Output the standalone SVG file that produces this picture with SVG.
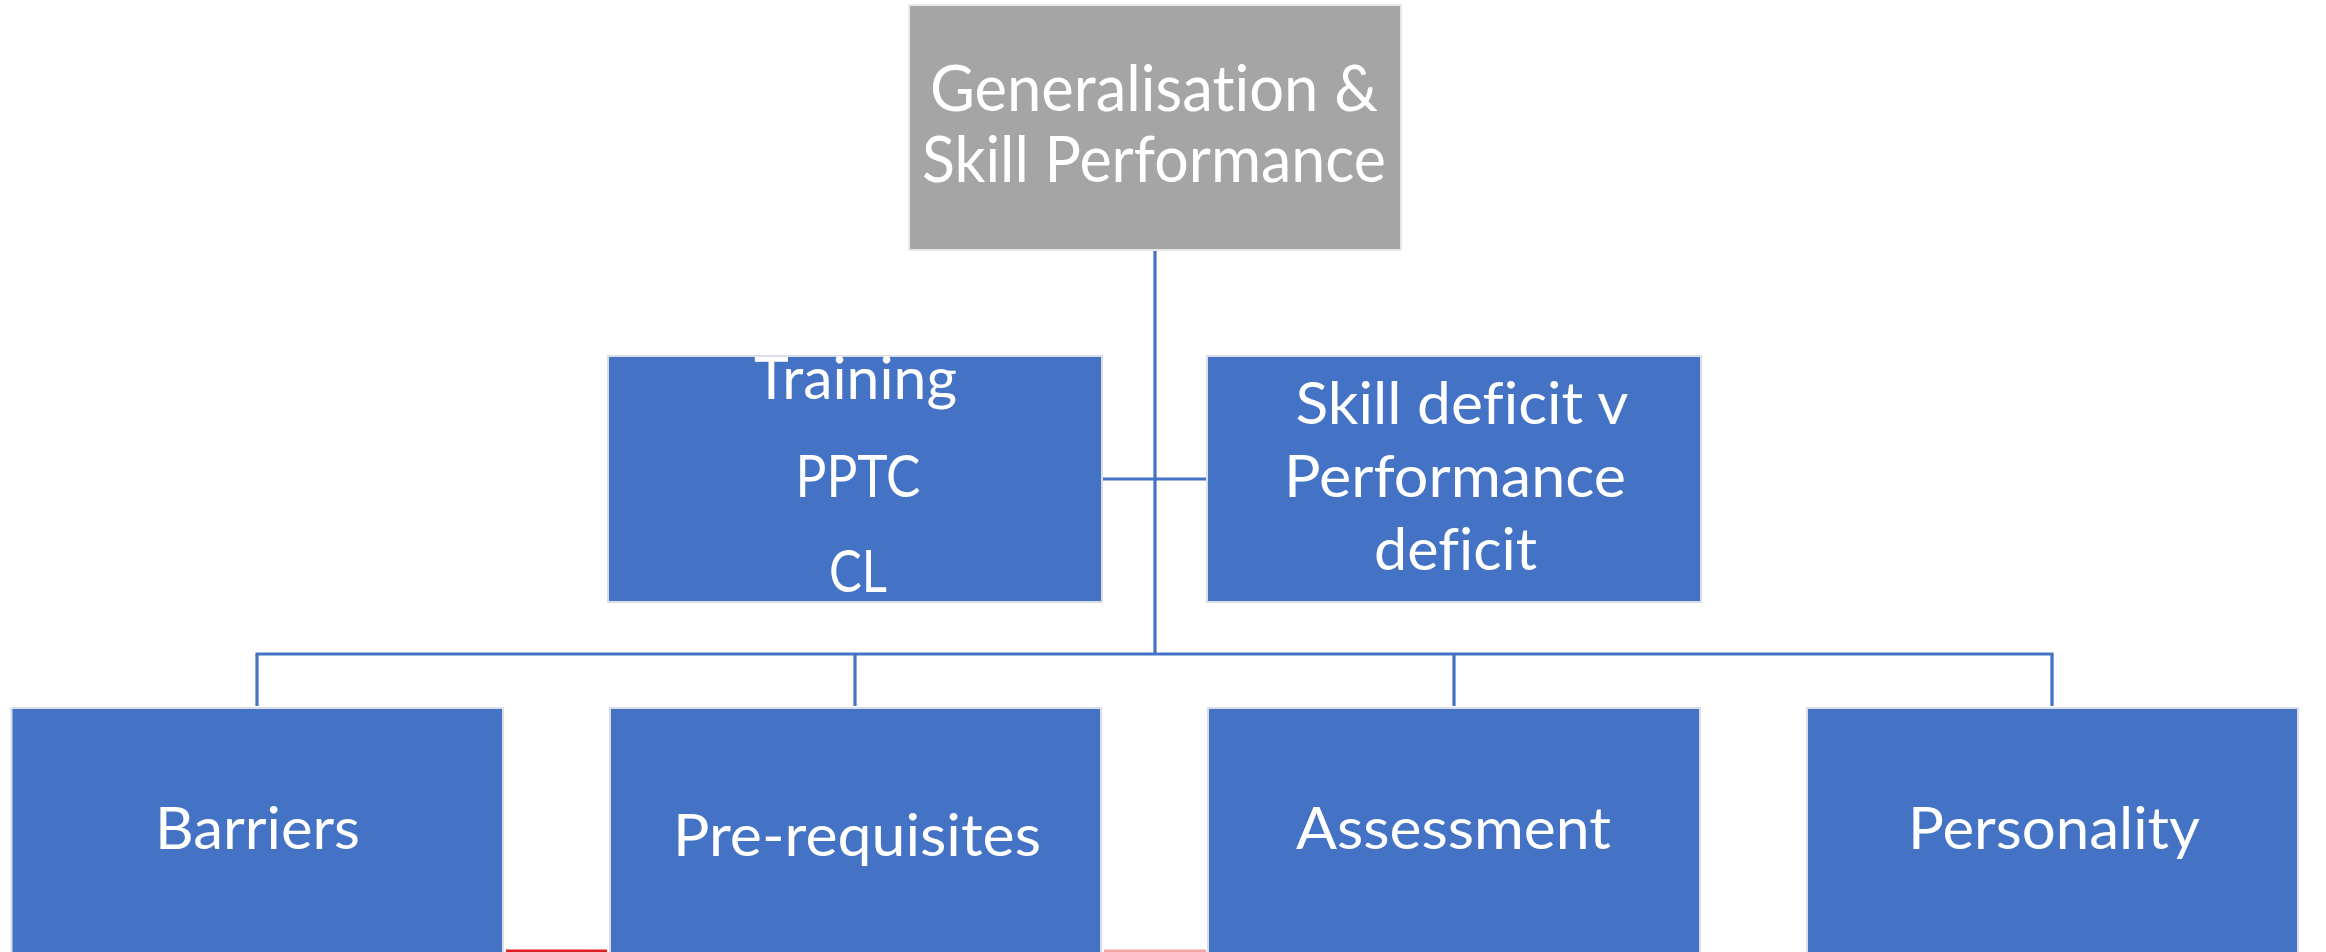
<svg xmlns="http://www.w3.org/2000/svg" width="2326" height="952" viewBox="0 0 2326 952">
<style>
.box{fill:#4472C4;stroke:#D9DEE8;stroke-width:2}
.top{fill:#A5A5A5;stroke:#E8E8E8;stroke-width:2}
.t{font-family:Lato,"Open Sans","Liberation Sans",sans-serif;fill:#FFFFFF;text-anchor:middle;font-variant-ligatures:none}
.big{font-size:63px}
.mid{font-size:59px}
.conn line{stroke:#4472C4;stroke-width:3.2}
</style>
<rect width="2326" height="952" fill="#FFFFFF"/>
<g id="connectors" class="conn">
<line x1="1155" y1="250" x2="1155" y2="654"/>
<line x1="1103" y1="479" x2="1207" y2="479"/>
<line x1="255.5" y1="654" x2="2053.5" y2="654"/>
<line x1="257" y1="654" x2="257" y2="706"/>
<line x1="855" y1="654" x2="855" y2="706"/>
<line x1="1454" y1="654" x2="1454" y2="706"/>
<line x1="2052" y1="654" x2="2052" y2="706"/>
</g>
<g id="node-top">
<rect class="top" x="909" y="5" width="492" height="245"/>
<text class="t big" x="1154" y="111" textLength="448" lengthAdjust="spacingAndGlyphs">Generalisation &amp;</text>
<text class="t big" x="1154" y="182" textLength="464" lengthAdjust="spacingAndGlyphs">Skill Performance</text>
</g>
<g id="node-training">
<rect class="box" x="608" y="356" width="494" height="246"/>
<text class="t mid" x="855.5" y="399" textLength="203" lengthAdjust="spacingAndGlyphs">Training</text>
<text class="t mid" x="858" y="497" textLength="125" lengthAdjust="spacingAndGlyphs">PPTC</text>
<text class="t mid" x="858" y="592" textLength="58" lengthAdjust="spacingAndGlyphs">CL</text>
</g>
<g id="node-deficit">
<rect class="box" x="1207" y="356" width="494" height="246"/>
<text class="t mid" x="1462" y="424" textLength="333" lengthAdjust="spacingAndGlyphs">Skill deficit v</text>
<text class="t mid" x="1455" y="497" textLength="342" lengthAdjust="spacingAndGlyphs">Performance</text>
<text class="t mid" x="1455.5" y="570" textLength="163" lengthAdjust="spacingAndGlyphs">deficit</text>
</g>
<g id="node-barriers">
<rect class="box" x="11.5" y="708" width="491.5" height="260"/>
<text class="t mid" x="257.5" y="849" textLength="205" lengthAdjust="spacingAndGlyphs">Barriers</text>
</g>
<g id="node-prerequisites">
<rect class="box" x="610" y="708" width="491" height="260"/>
<text class="t mid" x="857" y="856" textLength="368" lengthAdjust="spacingAndGlyphs">Pre-requisites</text>
</g>
<g id="node-assessment">
<rect class="box" x="1208" y="708" width="492" height="260"/>
<text class="t mid" x="1453.5" y="849" textLength="315" lengthAdjust="spacingAndGlyphs">Assessment</text>
</g>
<g id="node-personality">
<rect class="box" x="1807" y="708" width="491" height="260"/>
<text class="t mid" x="2054" y="849" textLength="292" lengthAdjust="spacingAndGlyphs">Personality</text>
</g>
<rect x="506" y="949.5" width="101" height="2.5" fill="#E02020"/>
<rect x="1104" y="949.5" width="102" height="2.5" fill="#F4A6A6"/>
</svg>
